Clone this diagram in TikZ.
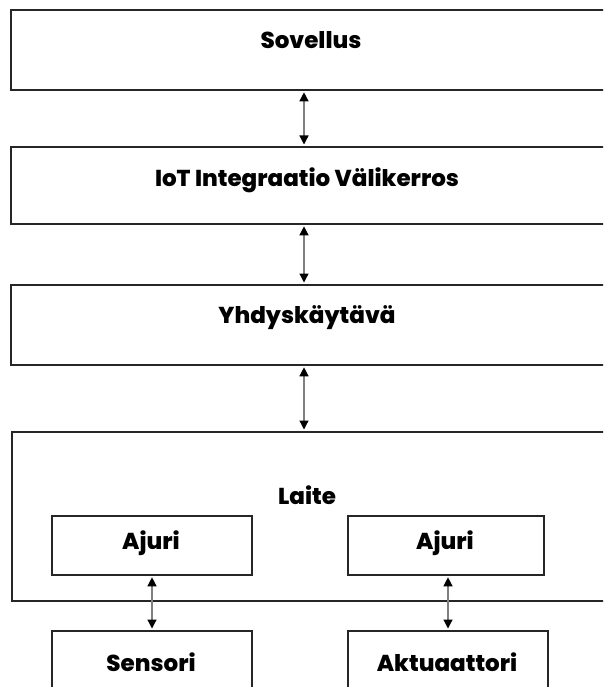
\documentclass[tikz,border=0pt]{standalone}
\usepackage{fontspec}
\setmainfont{Poppins}[BoldFont={Poppins ExtraBold}]
\usetikzlibrary{arrows.meta}
\tikzset{
  box/.style={draw=black!85, line width=1.8pt, rectangle, anchor=north west, inner sep=0pt},
  lbl/.style={font=\fontsize{23}{27}\selectfont\bfseries, text=black, inner sep=0pt},
  conn/.style={draw=black!50, line width=1.3pt, {Triangle[length=9pt,width=9pt,color=black]}-{Triangle[length=9pt,width=9pt,color=black]}, shorten <=1.5pt, shorten >=1.5pt}
}
\begin{document}
\begin{tikzpicture}[x=1pt,y=-1pt]
\useasboundingbox (0,0) rectangle (603,687);
\clip (0,0) rectangle (603,687);
\fill[white] (0,0) rectangle (603,687);
\coordinate (ax) at (304,0);
\coordinate (bl) at (152,0);
\coordinate (br) at (448,0);
% big boxes
\node[box, minimum width=620pt, minimum height=80pt] (sov) at (10,9) {};
\node[box, minimum width=620pt, minimum height=77pt] (iot) at (10,146) {};
\node[box, minimum width=620pt, minimum height=80pt] (gw) at (10,284) {};
\node[box, minimum width=620pt, minimum height=169pt] (dev) at (11,431) {};
% small boxes
\node[box, minimum width=200pt, minimum height=59pt] (ajl) at (51,515) {};
\node[box, minimum width=196pt, minimum height=59pt] (ajr) at (347,515) {};
\node[box, minimum width=200pt, minimum height=80pt] (sen) at (51,630) {};
\node[box, minimum width=200pt, minimum height=80pt] (akt) at (347,630) {};
% labels
\node[lbl] (tsov) at (311,40) {Sovellus};
\node[lbl] (tiot) at (307,180) {IoT Integraatio Välikerros};
\node[lbl] (tgw) at (307,318) {Yhdyskäytävä};
\node[lbl] (tdev) at (307,495) {Laite};
\node[lbl] (tajl) at (151,543) {Ajuri};
\node[lbl] (tajr) at (445,543) {Ajuri};
\node[lbl] (tsen) at (151,662) {Sensori};
\node[lbl] (takt) at (447,662) {Aktuaattori};
% connectors
\draw[conn] (sov.south -| ax) -- (iot.north -| ax);
\draw[conn] (iot.south -| ax) -- (gw.north -| ax);
\draw[conn] (gw.south -| ax) -- (dev.north -| ax);
\draw[conn] (ajl.south -| bl) -- (sen.north -| bl);
\draw[conn] (ajr.south -| br) -- (akt.north -| br);
\end{tikzpicture}
\end{document}
